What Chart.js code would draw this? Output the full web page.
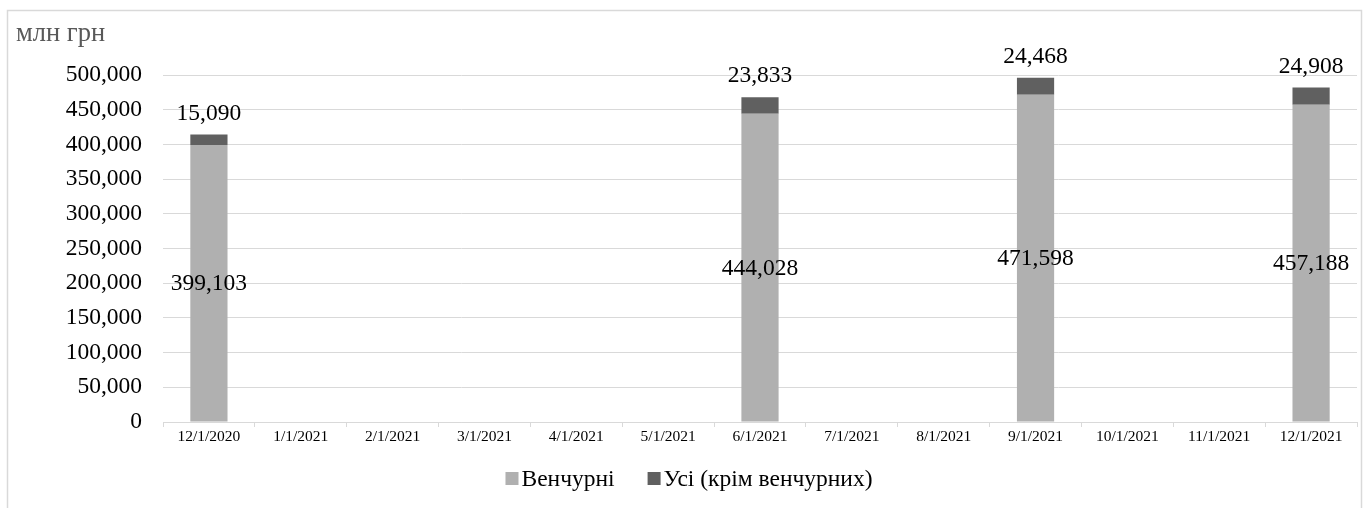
<!DOCTYPE html>
<html>
<head>
<meta charset="utf-8">
<script src="https://cdn.jsdelivr.net/npm/chart.js@4.4.1/dist/chart.umd.min.js"></script>
<style>
  html, body { margin: 0; padding: 0; background: #fff; overflow: hidden; }
  #wrap { width: 1366px; height: 508px; position: relative; }
</style>
</head>
<body>
<div id="wrap"><canvas id="chart"></canvas></div>
<script>
// Month-start dates on the horizontal axis
const categories = [
  '12/1/2020', '1/1/2021', '2/1/2021', '3/1/2021', '4/1/2021', '5/1/2021',
  '6/1/2021', '7/1/2021', '8/1/2021', '9/1/2021', '10/1/2021', '11/1/2021', '12/1/2021'
];
// Venture funds' assets, UAH mln
const ventureValues = [399103, null, null, null, null, null, 444028, null, null, 471598, null, null, 457188];
// All other funds (excluding venture), UAH mln
const otherValues = [15090, null, null, null, null, null, 23833, null, null, 24468, null, null, 24908];
const seriesNames = ['Венчурні', 'Усі (крім венчурних)'];
const seriesColors = ['#b0b0b0', '#606060'];
const unitLabel = 'млн грн';
const yMin = 0;
const yMax = 500000;
const yStep = 50000;

const SERIF = "'Liberation Serif', 'Times New Roman', serif";
const fmt = new Intl.NumberFormat('en-US');

// White background, light frame around the chart and the unit caption
const framePlugin = {
  id: 'frame',
  beforeDraw(chart) {
    const { ctx, width, height } = chart;
    ctx.save();
    ctx.fillStyle = '#ffffff';
    ctx.fillRect(0, 0, width, height);
    ctx.strokeStyle = '#d9d9d9';
    ctx.lineWidth = 1.5;
    ctx.beginPath();
    ctx.moveTo(7.5, height + 2);
    ctx.lineTo(7.5, 10.5);
    ctx.lineTo(1361.5, 10.5);
    ctx.lineTo(1361.5, height + 2);
    ctx.stroke();
    ctx.restore();
  },
  afterDraw(chart) {
    const { ctx } = chart;
    ctx.save();
    ctx.fillStyle = '#595959';
    ctx.font = `26.5px ${SERIF}`;
    ctx.textAlign = 'left';
    ctx.textBaseline = 'alphabetic';
    ctx.fillText(unitLabel, 16, 41);
    ctx.restore();
  }
};

// Value labels: lower segment in its middle, upper segment above the bar
const valueLabelPlugin = {
  id: 'valueLabels',
  afterDatasetsDraw(chart) {
    const { ctx } = chart;
    ctx.save();
    ctx.fillStyle = '#000000';
    ctx.font = `23.5px ${SERIF}`;
    ctx.textAlign = 'center';
    ctx.textBaseline = 'middle';
    chart.data.datasets.forEach((ds, di) => {
      const meta = chart.getDatasetMeta(di);
      meta.data.forEach((bar, i) => {
        const v = ds.data[i];
        if (v === null || v === undefined) return;
        const y = di === 0 ? (bar.y + bar.base) / 2 + 1 : bar.y - 21;
        ctx.fillText(fmt.format(v), bar.x, y);
      });
    });
    ctx.restore();
  }
};

// Legend row under the axis
const legendPlugin = {
  id: 'bottomLegend',
  afterDraw(chart) {
    const { ctx } = chart;
    const box = 13, textGap = 3, itemGap = 33;
    ctx.save();
    ctx.font = `23.5px ${SERIF}`;
    const items = chart.data.datasets.map(ds => ({
      text: ds.label, color: ds.backgroundColor, w: ctx.measureText(ds.label).width
    }));
    const total = items.reduce((s, it) => s + box + textGap + it.w, 0) + itemGap * (items.length - 1);
    let x = 689 - total / 2;
    const cy = 478.5;
    ctx.textAlign = 'left';
    ctx.textBaseline = 'middle';
    items.forEach(it => {
      ctx.fillStyle = it.color;
      ctx.fillRect(x, cy - box / 2, box, box);
      x += box + textGap;
      ctx.fillStyle = '#000000';
      ctx.fillText(it.text, x, cy + 1);
      x += it.w + itemGap;
    });
    ctx.restore();
  }
};

new Chart(document.getElementById('chart'), {
  type: 'bar',
  data: {
    labels: categories,
    datasets: [
      { label: seriesNames[0], data: ventureValues, backgroundColor: seriesColors[0] },
      { label: seriesNames[1], data: otherValues, backgroundColor: seriesColors[1] }
    ]
  },
  options: {
    responsive: true,
    maintainAspectRatio: false,
    animation: false,
    locale: 'en-US',
    layout: { padding: { top: 75, left: 0, right: 9, bottom: 56 } },
    datasets: { bar: { categoryPercentage: 1, barPercentage: 0.405, borderWidth: 0 } },
    plugins: {
      legend: { display: false },
      tooltip: { enabled: false },
      title: { display: false }
    },
    scales: {
      x: {
        stacked: true,
        offset: true,
        grid: { display: true, drawOnChartArea: false, drawTicks: true, tickLength: 5, color: '#d9d9d9', offset: true },
        border: { display: true, color: '#d9d9d9', width: 1 },
        ticks: { color: '#000000', font: { family: SERIF, size: 15.5 }, padding: 1, maxRotation: 0, autoSkip: false },
        afterFit(scale) { scale.height = 30; }
      },
      y: {
        stacked: true,
        min: yMin,
        max: yMax,
        grid: { color: '#d9d9d9', lineWidth: 1, drawTicks: false },
        border: { display: false },
        ticks: {
          stepSize: yStep,
          color: '#000000',
          font: { family: SERIF, size: 23.5 },
          padding: 21,
          callback: v => fmt.format(v)
        },
        afterFit(scale) { scale.width = 163; }
      }
    }
  },
  plugins: [framePlugin, valueLabelPlugin, legendPlugin]
});
</script>
</body>
</html>
